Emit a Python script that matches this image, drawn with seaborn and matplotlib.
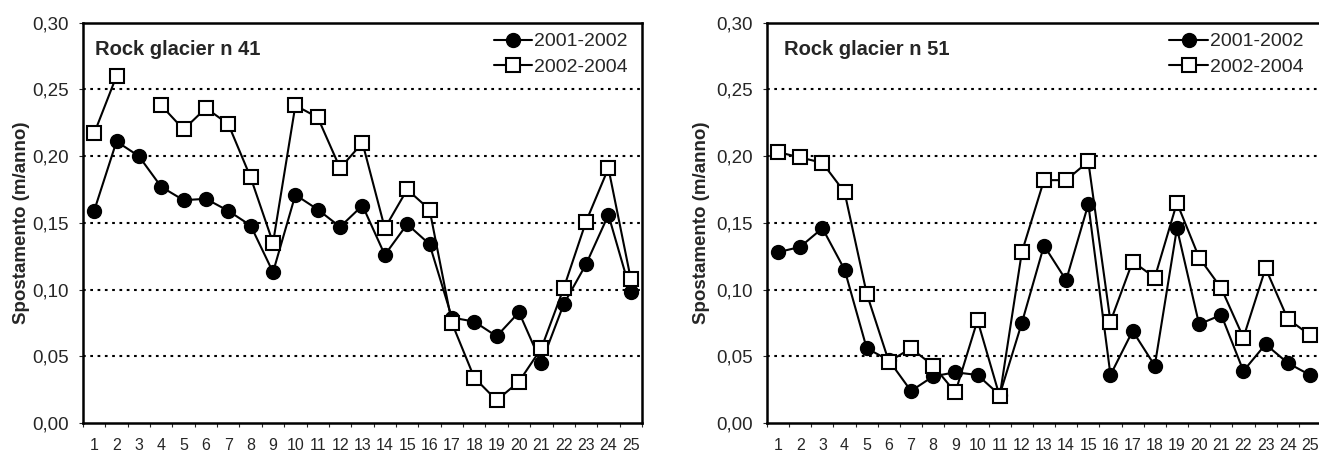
import numpy as np
import pandas as pd
import matplotlib
matplotlib.use("Agg")
import matplotlib.pyplot as plt
import seaborn as sns

punti = list(range(1, 26))

rg41_2001_2002 = [0.159, 0.211, 0.200, 0.177, 0.167, 0.168, 0.159, 0.148, 0.113, 0.171,
                  0.160, 0.147, 0.163, 0.126, 0.149, 0.134, 0.079, 0.076, 0.065, 0.083,
                  0.045, 0.089, 0.119, 0.156, 0.098]
rg41_2002_2004 = [0.217, 0.260, np.nan, 0.238, 0.220, 0.236, 0.224, 0.184, 0.135, 0.238,
                  0.229, 0.191, 0.210, 0.146, 0.175, 0.160, 0.075, 0.034, 0.017, 0.031,
                  0.056, 0.101, 0.151, 0.191, 0.108]

rg51_2001_2002 = [0.128, 0.132, 0.146, 0.115, 0.056, 0.047, 0.024, 0.035, 0.038, 0.036,
                  0.021, 0.075, 0.133, 0.107, 0.164, 0.036, 0.069, 0.043, 0.146, 0.074,
                  0.081, 0.039, 0.059, 0.045, 0.036]
rg51_2002_2004 = [0.203, 0.199, 0.195, 0.173, 0.097, 0.046, 0.056, 0.043, 0.023, 0.077,
                  0.020, 0.128, 0.182, 0.182, 0.196, 0.076, 0.121, 0.109, 0.165, 0.124,
                  0.101, 0.064, 0.116, 0.078, 0.066]

periodi = ["2001-2002", "2002-2004"]
valori_y = [0.00, 0.05, 0.10, 0.15, 0.20, 0.25, 0.30]
etichette_y = ["0,00", "0,05", "0,10", "0,15", "0,20", "0,25", "0,30"]


def tabella(valori, periodo):
    df = pd.DataFrame({"punto": punti, "valore": valori})
    df["periodo"] = periodo
    # a missing value breaks the line into separate pieces
    df["tratto"] = df["valore"].isna().cumsum()
    return df.dropna()


def disegna(ax, s1, s2, titolo, pos_titolo, pos_legenda, pad_label):
    d1 = tabella(s1, periodi[0])
    d2 = tabella(s2, periodi[1])

    for yv in valori_y[1:-1]:
        ax.axhline(yv, color="black", lw=1.5, ls=(0, (1.3, 2.2)), zorder=0)

    sns.lineplot(data=d1, x="punto", y="valore", units="tratto", estimator=None,
                 color="black", lw=1.5, marker="o", markersize=10,
                 markerfacecolor="black", markeredgecolor="black",
                 markeredgewidth=1, label=periodi[0], ax=ax)
    sns.lineplot(data=d2, x="punto", y="valore", units="tratto", estimator=None,
                 color="black", lw=1.5, marker="s", markersize=10,
                 markerfacecolor="white", markeredgecolor="black",
                 markeredgewidth=1.5, label=periodi[1], ax=ax)

    ax.set_xlim(0.5, 25.5)
    ax.set_ylim(0, 0.30)
    ax.set_xticks(punti)
    ax.set_xticklabels([str(p) for p in punti], fontsize=11.5)
    ax.set_xticks(np.arange(0.5, 26, 1), minor=True)
    ax.tick_params(axis="x", which="major", length=0, pad=11)
    ax.tick_params(axis="x", which="minor", length=3, width=0.8, direction="out")
    ax.set_yticks(valori_y)
    ax.set_yticklabels(etichette_y, fontsize=13.5)
    ax.tick_params(axis="y", length=3, width=0.8, direction="out", pad=7)
    ax.set_xlabel("")
    ax.set_ylabel("Spostamento (m/anno)", fontsize=13.5, fontweight="bold", labelpad=pad_label)

    for sp in ax.spines.values():
        sp.set_visible(True)
        sp.set_linewidth(1.8)
        sp.set_color("black")

    ax.text(pos_titolo[0], pos_titolo[1], titolo, transform=ax.transAxes,
            fontsize=14.5, fontweight="bold", va="center", ha="left")

    handles, labels = ax.get_legend_handles_labels()
    unici = {}
    for h, l in zip(handles, labels):
        unici.setdefault(l, h)
    ax.legend([unici[p] for p in periodi], periodi, loc="upper right",
              bbox_to_anchor=pos_legenda, frameon=False, fontsize=14,
              handlelength=2.0, handletextpad=0.1, labelspacing=0.4,
              borderpad=0, borderaxespad=0)


sns.set_theme(style="ticks")
plt.rcParams["font.family"] = ["Liberation Sans", "DejaVu Sans"]

fig = plt.figure(figsize=(13.19, 4.53), dpi=100)
ax1 = fig.add_axes([0.0629, 0.0662, 0.4238, 0.8837])
# the right panel runs slightly past the picture edge, as in the original
ax2 = fig.add_axes([0.5815, 0.0662, 0.4200, 0.8837])

disegna(ax1, rg41_2001_2002, rg41_2002_2004, "Rock glacier n 41", (0.0215, 0.932), (0.975, 0.975), 2)
disegna(ax2, rg51_2001_2002, rg51_2002_2004, "Rock glacier n 51", (0.030, 0.932), (0.969, 0.975), 5)

fig.savefig("out.png", dpi=100)
